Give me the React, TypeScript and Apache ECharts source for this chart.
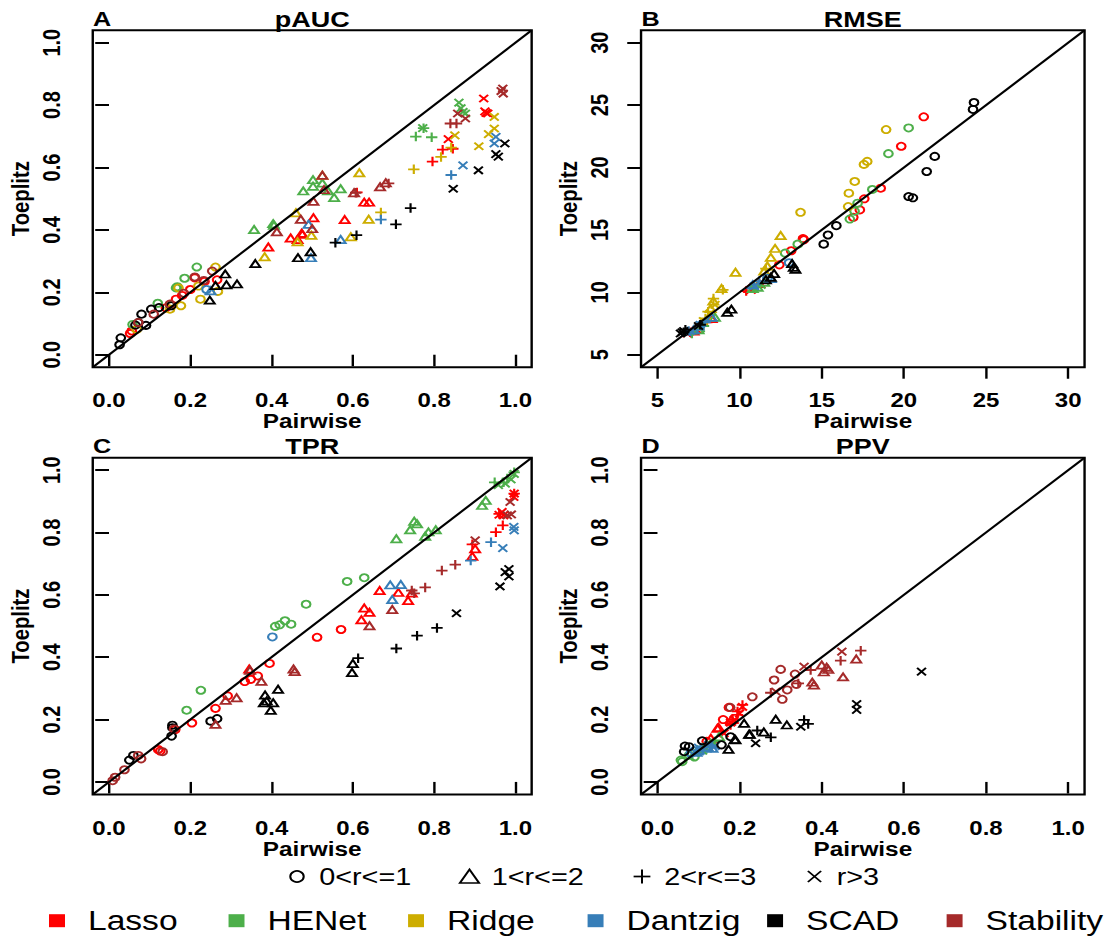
import React, { useEffect, useRef } from 'react';
import * as echarts from 'echarts';

// ---------------- data ----------------
// each point: [Pairwise, Toeplitz, rGroup]  rGroup: 1 = 0<r<=1, 2 = 1<r<=2, 3 = 2<r<=3, 4 = r>3
const METHODS = ['Lasso', 'HENet', 'Ridge', 'Dantzig', 'SCAD', 'Stability'];
const COLORS = ['#FF0000', '#4DAF4A', '#CDAD00', '#377EB8', '#000000', '#A52A2A'];
const R_LABELS = ['0<r<=1', '1<r<=2', '2<r<=3', 'r>3'];
const PANEL_TITLES = ['pAUC', 'RMSE', 'TPR', 'PPV'];
const PANEL_LETTERS = ['A', 'B', 'C', 'D'];
const UNIT_TICKS = [0, 0.2, 0.4, 0.6, 0.8, 1.0];
const RMSE_TICKS = [5, 10, 15, 20, 25, 30];
const X_TITLE = 'Pairwise';
const Y_TITLE = 'Toeplitz';

// pAUC
const pauc_lasso = [
  [0.052, 0.068, 1], [0.056, 0.076, 1], [0.14, 0.15, 1], [0.165, 0.178, 1], [0.18, 0.19, 1], [0.2, 0.209, 1], [0.211, 0.246, 1], [0.235, 0.235, 1], [0.266, 0.24, 1],
  [0.392, 0.345, 2], [0.447, 0.374, 2], [0.464, 0.369, 2], [0.474, 0.389, 2], [0.476, 0.386, 2], [0.503, 0.439, 2], [0.58, 0.433, 2], [0.628, 0.489, 2], [0.64, 0.489, 2],
  [0.61, 0.52, 3], [0.796, 0.619, 3], [0.821, 0.657, 3], [0.846, 0.66, 3],
  [0.835, 0.691, 4], [0.922, 0.821, 4], [0.925, 0.78, 4], [0.928, 0.775, 4], [0.932, 0.773, 4],
];
const pauc_henet = [
  [0.058, 0.097, 1], [0.12, 0.165, 1], [0.15, 0.16, 1], [0.165, 0.214, 1], [0.168, 0.218, 1], [0.186, 0.245, 1], [0.216, 0.281, 1],
  [0.357, 0.401, 2], [0.404, 0.42, 2], [0.406, 0.415, 2], [0.478, 0.525, 2], [0.502, 0.561, 2], [0.502, 0.54, 2], [0.525, 0.55, 2], [0.539, 0.525, 2], [0.554, 0.504, 2], [0.57, 0.532, 2],
  [0.755, 0.699, 3], [0.774, 0.726, 3], [0.794, 0.697, 3],
  [0.772, 0.726, 4], [0.861, 0.808, 4], [0.866, 0.79, 4], [0.871, 0.778, 4], [0.877, 0.773, 4],
];
const pauc_ridge = [
  [0.068, 0.081, 1], [0.15, 0.146, 1], [0.171, 0.214, 1], [0.177, 0.157, 1], [0.22, 0.22, 1], [0.225, 0.178, 1], [0.262, 0.281, 1], [0.268, 0.203, 1],
  [0.383, 0.314, 2], [0.46, 0.455, 2], [0.464, 0.362, 2], [0.498, 0.383, 2], [0.525, 0.575, 2], [0.595, 0.378, 2], [0.616, 0.583, 2], [0.639, 0.434, 2],
  [0.669, 0.456, 3], [0.75, 0.594, 3], [0.817, 0.634, 3], [0.842, 0.664, 3],
  [0.851, 0.703, 4], [0.91, 0.668, 4], [0.934, 0.707, 4], [0.948, 0.725, 4], [0.948, 0.762, 4],
];
const pauc_dantzig = [
  [0.24, 0.209, 1],
  [0.25, 0.205, 2], [0.491, 0.418, 2], [0.497, 0.311, 2], [0.57, 0.369, 2],
  [0.669, 0.433, 3], [0.842, 0.576, 3],
  [0.871, 0.607, 4], [0.948, 0.677, 4], [0.952, 0.698, 4],
];
const pauc_scad = [
  [0.026, 0.032, 1], [0.029, 0.054, 1], [0.065, 0.095, 1], [0.072, 0.103, 1], [0.08, 0.13, 1], [0.091, 0.094, 1], [0.104, 0.146, 1], [0.123, 0.151, 1], [0.153, 0.157, 1],
  [0.248, 0.175, 2], [0.262, 0.222, 2], [0.286, 0.259, 2], [0.289, 0.224, 2], [0.315, 0.227, 2], [0.36, 0.292, 2], [0.465, 0.311, 2], [0.496, 0.33, 2],
  [0.557, 0.359, 3], [0.609, 0.383, 3], [0.706, 0.418, 3], [0.742, 0.47, 3],
  [0.847, 0.532, 4], [0.909, 0.591, 4], [0.952, 0.643, 4], [0.958, 0.635, 4], [0.974, 0.677, 4],
];
const pauc_stability = [
  [0.072, 0.103, 1], [0.11, 0.13, 1], [0.15, 0.162, 1], [0.184, 0.197, 1], [0.211, 0.249, 1], [0.233, 0.238, 1], [0.254, 0.268, 1],
  [0.413, 0.394, 2], [0.472, 0.434, 2], [0.5, 0.404, 2], [0.503, 0.492, 2], [0.525, 0.575, 2], [0.529, 0.529, 2], [0.603, 0.519, 2], [0.667, 0.538, 2], [0.681, 0.551, 2],
  [0.607, 0.519, 3], [0.688, 0.549, 3], [0.84, 0.741, 3], [0.855, 0.741, 3],
  [0.858, 0.773, 4], [0.877, 0.757, 4], [0.965, 0.845, 4], [0.969, 0.853, 4], [0.97, 0.837, 4],
];

// RMSE
const rmse_lasso = [
  [21.21, 24.06, 1], [19.84, 21.7, 1], [18.59, 18.34, 1], [17.59, 17.49, 1], [17.32, 16.6, 1], [16.92, 16.01, 1], [13.91, 14.21, 1], [13.86, 14.3, 1], [13.14, 13.33, 1], [12.42, 12.2, 1],
  [10.6, 10.3, 2], [11.2, 10.7, 2], [8.3, 7.9, 2], [7.2, 6.9, 2],
  [10.4, 10.1, 3], [8.0, 7.6, 3], [7.0, 6.8, 3],
  [10.7, 10.2, 4], [7.4, 7.0, 4], [6.8, 6.7, 4],
];
const rmse_henet = [
  [20.29, 23.17, 1], [19.06, 21.11, 1], [18.08, 18.24, 1], [17.18, 17.14, 1], [17.0, 16.5, 1], [16.71, 15.87, 1], [13.54, 13.86, 1], [12.77, 13.14, 1],
  [11.1, 10.4, 2], [11.5, 10.8, 2], [10.8, 10.3, 2], [8.5, 8.0, 2], [7.5, 7.0, 2],
  [10.9, 10.5, 3], [7.8, 7.3, 3], [7.1, 6.7, 3],
  [11.3, 10.6, 4], [7.6, 7.1, 4], [6.9, 6.8, 4],
];
const rmse_ridge = [
  [18.92, 23.04, 1], [17.57, 20.25, 1], [17.77, 20.49, 1], [17.01, 18.88, 1], [16.65, 17.94, 1], [16.61, 16.87, 1], [13.71, 16.41, 1],
  [12.5, 14.55, 2], [12.16, 13.52, 2], [11.9, 12.8, 2], [11.69, 12.1, 2], [11.5, 11.7, 2], [9.75, 11.6, 2], [8.9, 10.3, 2], [8.4, 9.3, 2], [8.24, 8.7, 2],
  [11.6, 11.9, 3], [8.98, 10.2, 3], [8.41, 9.5, 3], [8.08, 8.45, 3], [7.92, 7.9, 3],
  [8.5, 9.0, 4], [8.2, 8.3, 4], [7.8, 7.7, 4],
];
const rmse_dantzig = [
  [13.01, 12.37, 1], [11.69, 11.13, 1],
  [11.9, 11.1, 2], [10.8, 10.6, 2], [8.3, 8.0, 2], [7.5, 7.3, 2], [7.2, 7.0, 2],
  [11.2, 10.9, 3], [7.9, 7.6, 3], [6.9, 6.9, 3],
  [10.9, 10.5, 4], [7.6, 7.4, 4], [7.0, 6.9, 4], [6.8, 6.8, 4],
];
const rmse_scad = [
  [24.27, 25.21, 1], [24.21, 24.65, 1], [21.88, 20.89, 1], [21.39, 19.68, 1], [20.29, 17.67, 1], [20.55, 17.57, 1], [15.89, 15.34, 1], [15.38, 14.59, 1], [15.12, 13.86, 1],
  [13.3, 12.0, 2], [13.4, 11.85, 2], [13.2, 12.3, 2], [12.1, 11.5, 2], [11.9, 11.2, 2], [11.6, 11.0, 2], [9.5, 8.65, 2], [9.25, 8.4, 2],
  [7.6, 7.4, 3], [6.7, 7.0, 3], [6.6, 6.8, 3],
  [7.5, 7.3, 4], [6.6, 6.9, 4], [6.5, 6.8, 4], [6.4, 6.7, 4],
];
const rmse_stability: number[][] = [];

// TPR
const tpr_lasso = [
  [0.121, 0.104, 1], [0.126, 0.099, 1], [0.163, 0.168, 1], [0.204, 0.189, 1], [0.262, 0.236, 1], [0.292, 0.276, 1], [0.334, 0.322, 1], [0.349, 0.329, 1], [0.366, 0.34, 1], [0.395, 0.38, 1], [0.512, 0.464, 1], [0.571, 0.489, 1],
  [0.345, 0.362, 2], [0.621, 0.52, 2], [0.628, 0.558, 2], [0.641, 0.544, 2], [0.666, 0.614, 2], [0.712, 0.608, 2], [0.736, 0.582, 2], [0.745, 0.606, 2], [0.894, 0.724, 2], [0.901, 0.748, 2],
  [0.894, 0.762, 3], [0.952, 0.801, 3], [0.96, 0.86, 3], [0.969, 0.823, 3], [0.997, 0.925, 3],
  [0.96, 0.857, 4], [0.967, 0.866, 4], [0.971, 0.855, 4], [0.996, 0.914, 4], [0.997, 0.925, 4],
];
const tpr_henet = [
  [0.191, 0.23, 1], [0.226, 0.294, 1], [0.409, 0.499, 1], [0.42, 0.504, 1], [0.433, 0.517, 1], [0.448, 0.506, 1], [0.485, 0.57, 1], [0.586, 0.643, 1], [0.628, 0.655, 1],
  [0.707, 0.78, 2], [0.741, 0.809, 2], [0.751, 0.836, 2], [0.758, 0.828, 2], [0.778, 0.788, 2], [0.786, 0.802, 2], [0.804, 0.809, 2], [0.918, 0.887, 2], [0.927, 0.903, 2],
  [0.949, 0.961, 3], [0.971, 0.961, 3], [0.98, 0.973, 3], [0.997, 0.993, 3],
  [0.958, 0.952, 4], [0.975, 0.957, 4], [0.989, 0.97, 4], [0.997, 0.988, 4],
];
const tpr_ridge: number[][] = [];
const tpr_dantzig = [
  [0.402, 0.465, 1],
  [0.692, 0.632, 2], [0.697, 0.585, 2], [0.718, 0.633, 2],
  [0.89, 0.71, 3], [0.94, 0.769, 3],
  [0.969, 0.75, 4], [0.996, 0.818, 4], [0.997, 0.807, 4],
];
const tpr_scad = [
  [0.05, 0.07, 1], [0.06, 0.085, 1], [0.154, 0.147, 1], [0.156, 0.182, 1], [0.156, 0.174, 1], [0.25, 0.195, 1], [0.266, 0.203, 1],
  [0.381, 0.254, 2], [0.384, 0.279, 2], [0.388, 0.26, 2], [0.398, 0.23, 2], [0.404, 0.254, 2], [0.416, 0.297, 2], [0.598, 0.351, 2], [0.6, 0.38, 2],
  [0.613, 0.397, 3], [0.707, 0.428, 3], [0.758, 0.469, 3], [0.807, 0.494, 3],
  [0.855, 0.541, 4], [0.962, 0.627, 4], [0.975, 0.673, 4], [0.984, 0.683, 4], [0.984, 0.659, 4],
];
const tpr_stability = [
  [0.009, 0.004, 1], [0.015, 0.015, 1], [0.038, 0.039, 1], [0.072, 0.085, 1], [0.079, 0.074, 1], [0.132, 0.097, 1], [0.16, 0.17, 1],
  [0.262, 0.185, 2], [0.287, 0.262, 2], [0.314, 0.27, 2], [0.347, 0.358, 2], [0.375, 0.323, 2], [0.454, 0.362, 2], [0.457, 0.354, 2], [0.641, 0.501, 2], [0.697, 0.553, 2],
  [0.745, 0.614, 3], [0.751, 0.605, 3], [0.778, 0.624, 3], [0.819, 0.678, 3], [0.852, 0.697, 3],
  [0.901, 0.775, 4], [0.98, 0.855, 4], [0.987, 0.898, 4], [0.99, 0.858, 4],
];

// PPV
const ppv_lasso = [
  [0.12, 0.13, 1], [0.16, 0.2, 1], [0.174, 0.239, 1],
  [0.13, 0.14, 2], [0.146, 0.172, 2], [0.149, 0.175, 2], [0.18, 0.2, 2],
  [0.178, 0.183, 3], [0.183, 0.2, 3], [0.195, 0.226, 3], [0.195, 0.215, 3], [0.207, 0.247, 3],
  [0.162, 0.156, 4], [0.178, 0.19, 4], [0.187, 0.199, 4], [0.2, 0.22, 4], [0.207, 0.241, 4],
];
const ppv_henet = [
  [0.057, 0.07, 1], [0.06, 0.065, 1], [0.077, 0.086, 1], [0.09, 0.08, 1],
  [0.097, 0.102, 2], [0.11, 0.11, 2], [0.13, 0.123, 2], [0.15, 0.145, 2],
  [0.1, 0.095, 3], [0.12, 0.11, 3], [0.14, 0.13, 3],
  [0.08, 0.08, 4], [0.11, 0.1, 4], [0.13, 0.12, 4],
];
const ppv_ridge: number[][] = [];
const ppv_dantzig = [
  [0.081, 0.092, 1], [0.09, 0.1, 1],
  [0.095, 0.095, 2], [0.101, 0.102, 2], [0.122, 0.113, 2], [0.134, 0.108, 2],
  [0.11, 0.1, 3], [0.13, 0.11, 3],
  [0.1, 0.11, 4], [0.125, 0.12, 4], [0.14, 0.115, 4],
];
const ppv_scad = [
  [0.065, 0.097, 1], [0.067, 0.115, 1], [0.077, 0.113, 1], [0.109, 0.132, 1], [0.156, 0.119, 1], [0.178, 0.145, 1],
  [0.173, 0.105, 2], [0.188, 0.136, 2], [0.19, 0.135, 2], [0.211, 0.188, 2], [0.223, 0.153, 2], [0.225, 0.153, 2], [0.259, 0.16, 2], [0.288, 0.201, 2], [0.315, 0.183, 2],
  [0.243, 0.165, 3], [0.276, 0.143, 3], [0.357, 0.199, 3], [0.367, 0.186, 3],
  [0.239, 0.124, 4], [0.349, 0.177, 4], [0.485, 0.25, 4], [0.485, 0.231, 4], [0.643, 0.354, 4],
];
const ppv_stability = [
  [0.177, 0.239, 1], [0.231, 0.273, 1], [0.284, 0.327, 1], [0.3, 0.361, 1], [0.304, 0.265, 1], [0.316, 0.295, 1], [0.335, 0.346, 1], [0.338, 0.313, 1],
  [0.377, 0.32, 2], [0.381, 0.311, 2], [0.4, 0.375, 2], [0.405, 0.353, 2], [0.412, 0.368, 2], [0.416, 0.361, 2], [0.452, 0.337, 2], [0.484, 0.394, 2],
  [0.276, 0.286, 3], [0.343, 0.316, 3], [0.373, 0.359, 3], [0.446, 0.389, 3], [0.495, 0.421, 3],
  [0.288, 0.29, 4], [0.357, 0.37, 4], [0.449, 0.418, 4],
];

const PANEL_DATA = [
  [pauc_lasso, pauc_henet, pauc_ridge, pauc_dantzig, pauc_scad, pauc_stability],
  [rmse_lasso, rmse_henet, rmse_ridge, rmse_dantzig, rmse_scad, rmse_stability],
  [tpr_lasso, tpr_henet, tpr_ridge, tpr_dantzig, tpr_scad, tpr_stability],
  [ppv_lasso, ppv_henet, ppv_ridge, ppv_dantzig, ppv_scad, ppv_stability],
];

// ---------------- layout ----------------
const W = 1115;
const H = 937;
const S = 1.2; // horizontal stretch of the reference picture
const W0 = W / S;
const FONT = '"Liberation Sans", Arial, Helvetica, sans-serif';

const GRIDS = [
  { left: 77.3, top: 30.2, width: 365.75, height: 337 },
  { left: 534.2, top: 30.2, width: 369.6, height: 337 },
  { left: 77.3, top: 457.7, width: 365.75, height: 336.7 },
  { left: 534.2, top: 457.7, width: 369.6, height: 336.7 },
];

const SYMBOLS: Record<number, string> = {
  1: 'circle',
  2: 'triangle',
  3: 'path://M5,0L5,10M0,5L10,5',
  4: 'path://M0,0L10,10M0,10L10,0',
};
const SIZES: Record<number, number | number[]> = {
  1: 7.2,
  2: [8.2, 7.2],
  3: 9.5,
  4: 7.4,
};

function buildOption() {
  const grid = GRIDS.map((g) => ({
    ...g,
    show: true,
    borderColor: '#000',
    borderWidth: 2,
    backgroundColor: 'transparent',
  }));
  const xAxis: any[] = [];
  const yAxis: any[] = [];
  const series: any[] = [];
  for (let i = 0; i < 4; i++) {
    const isR = i === 1;
    const ticks = isR ? RMSE_TICKS : UNIT_TICKS;
    const mn = isR ? 4 : -0.04;
    const mx = isR ? 31 : 1.04;
    const fmt = (v: number) => (isR ? String(Math.round(v)) : v.toFixed(1));
    const common = {
      gridIndex: i,
      type: 'value',
      min: mn,
      max: mx,
      axisLine: { show: false },
      splitLine: { show: false },
      axisTick: {
        show: true,
        inside: false,
        length: 11.5,
        customValues: ticks,
        lineStyle: { color: '#000', width: 2 },
      },
    };
    xAxis.push({
      ...common,
      axisLabel: {
        show: true,
        customValues: ticks,
        formatter: fmt,
        margin: i < 2 ? 23 : 23.5,
        fontSize: 20,
        fontWeight: 'bold',
        fontFamily: FONT,
        color: '#000',
      },
    });
    yAxis.push({
      ...common,
      axisLabel: {
        show: true,
        customValues: ticks,
        formatter: fmt,
        rotate: 90,
        margin: 24,
        fontSize: 20,
        fontWeight: 'bold',
        fontFamily: FONT,
        color: '#000',
      },
    });
    PANEL_DATA[i].forEach((arr, j) => {
      if (!arr.length) return;
      series.push({
        type: 'scatter',
        name: METHODS[j],
        xAxisIndex: i,
        yAxisIndex: i,
        data: arr,
        symbol: (v: number[]) => SYMBOLS[v[2]],
        symbolSize: (v: number[]) => SIZES[v[2]],
        itemStyle: { color: 'rgba(0,0,0,0)', borderColor: COLORS[j], borderWidth: 1.8, opacity: 1 },
        emphasis: { disabled: true },
        silent: true,
        z: 2,
      });
    });
    series.push({
      type: 'line',
      xAxisIndex: i,
      yAxisIndex: i,
      data: [[mn, mn], [mx, mx]],
      symbol: 'none',
      lineStyle: { color: '#000', width: 2 },
      silent: true,
      z: 3,
    });
  }

  const graphic: any[] = [];
  const bold = (size: number) => ({ fontSize: size, fontWeight: 'bold', fontFamily: FONT, fill: '#000' });
  GRIDS.forEach((g, i) => {
    const cx = g.left + g.width / 2;
    const cy = g.top + g.height / 2;
    const top = i < 2 ? 19 : 446;
    const xt = i < 2 ? 421.5 : 849;
    graphic.push({ type: 'text', x: g.left + 0.3, y: top, style: { text: PANEL_LETTERS[i], ...bold(21), align: 'left', verticalAlign: 'middle' } });
    graphic.push({ type: 'text', x: cx, y: top, style: { text: PANEL_TITLES[i], ...bold(22.5), align: 'center', verticalAlign: 'middle' } });
    graphic.push({ type: 'text', x: cx, y: xt, style: { text: X_TITLE, ...bold(20.3), align: 'center', verticalAlign: 'middle' } });
    graphic.push({ type: 'text', x: g.left - 60, y: cy, rotation: Math.PI / 2, style: { text: Y_TITLE, ...bold(20.3), align: 'center', verticalAlign: 'middle' } });
  });

  // legend row 1 : r groups
  const r1y = 876.5;
  const sw = 1.7;
  R_LABELS.forEach((lab, k) => {
    const sx = 247.5 + k * 143.75;
    if (k === 0) {
      graphic.push({ type: 'circle', shape: { cx: sx, cy: r1y, r: 5.6 }, style: { fill: 'none', stroke: '#000', lineWidth: sw } });
    } else if (k === 1) {
      graphic.push({ type: 'polygon', shape: { points: [[sx, r1y - 7], [sx - 8, r1y + 6.5], [sx + 8, r1y + 6.5]] }, style: { fill: 'none', stroke: '#000', lineWidth: sw } });
    } else if (k === 2) {
      graphic.push({ type: 'line', shape: { x1: sx - 7, y1: r1y, x2: sx + 7, y2: r1y }, style: { stroke: '#000', lineWidth: sw } });
      graphic.push({ type: 'line', shape: { x1: sx, y1: r1y - 7, x2: sx, y2: r1y + 7 }, style: { stroke: '#000', lineWidth: sw } });
    } else {
      graphic.push({ type: 'line', shape: { x1: sx - 5.5, y1: r1y - 5.5, x2: sx + 5.5, y2: r1y + 5.5 }, style: { stroke: '#000', lineWidth: sw } });
      graphic.push({ type: 'line', shape: { x1: sx - 5.5, y1: r1y + 5.5, x2: sx + 5.5, y2: r1y - 5.5 }, style: { stroke: '#000', lineWidth: sw } });
    }
    graphic.push({ type: 'text', x: sx + 18.5, y: 877, style: { text: lab, fontSize: 24, fontFamily: FONT, fill: '#000', align: 'left', verticalAlign: 'middle' } });
  });

  // legend row 2 : methods
  METHODS.forEach((m, k) => {
    const sx = 47.5 + k * 149.6;
    graphic.push({ type: 'rect', shape: { x: sx - 6.65, y: 920.7 - 6.5, width: 13.3, height: 13 }, style: { fill: COLORS[k] } });
    graphic.push({ type: 'text', x: sx + 25.8, y: 920, style: { text: m, fontSize: 28, fontFamily: FONT, fill: '#000', align: 'left', verticalAlign: 'middle' } });
  });

  return {
    animation: false,
    backgroundColor: '#fff',
    grid,
    xAxis,
    yAxis,
    series,
    graphic,
  };
}

export default function App() {
  const ref = useRef<HTMLDivElement | null>(null);
  useEffect(() => {
    if (!ref.current) return;
    const chart = echarts.init(ref.current, undefined, { renderer: 'svg' });
    chart.setOption(buildOption() as any);
    return () => chart.dispose();
  }, []);
  return (
    <div style={{ position: 'fixed', left: 0, top: 0, width: W, height: H, overflow: 'hidden', background: '#fff' }}>
      <div
        ref={ref}
        style={{ width: W0, height: H, transform: `scaleX(${S})`, transformOrigin: '0 0' }}
      />
    </div>
  );
}
